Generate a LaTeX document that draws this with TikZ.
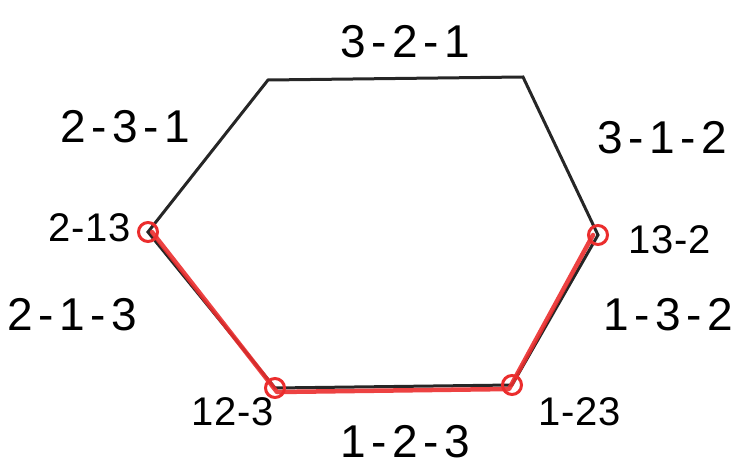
\documentclass[tikz,border=0pt]{standalone}
\usepackage{fontspec}
\setmainfont{Liberation Sans}
\definecolor{pen}{RGB}{235,45,45}
\begin{document}
\begin{tikzpicture}[x=1pt,y=-1pt,
  big/.style={font=\fontsize{46}{48}\selectfont\addfontfeature{LetterSpace=12}, inner sep=0pt},
  small/.style={font=\fontsize{40}{42}\selectfont\addfontfeature{LetterSpace=2}, inner sep=0pt},
  edge/.style={draw=black!85, line width=3pt, line cap=round},
  path/.style={draw=pen, line width=4.5pt, line cap=round, line join=round, opacity=0.9},
  ring/.style={draw=pen, line width=3pt, circle, minimum size=19pt, inner sep=0pt}]
\useasboundingbox (0,0) rectangle (751,473);
\coordinate (tl) at (268,80);
\coordinate (tr) at (523,77);
\coordinate (r) at (598,235);
\coordinate (br) at (512,385);
\coordinate (bl) at (275,388);
\coordinate (l) at (148,232);
\draw[edge] (tl) -- (tr) -- (r) -- (br) -- (bl) -- (l) -- cycle;
\draw[path] ([xshift=4pt]l) -- ([yshift=-4pt,xshift=2pt]bl) -- ([yshift=-4pt,xshift=-3pt]br) -- ([xshift=-5pt]r);
\node[ring] (cl) at (l) {};
\node[ring] (cr) at (r) {};
\node[ring] (cbl) at (bl) {};
\node[ring] (cbr) at (br) {};
\node[big] (t321) at (405,42) {3-2-1};
\node[big] (t231) at (125,127) {2-3-1};
\node[big] (t312) at (662,138) {3-1-2};
\node[small] (t213) at (90,228) {2-13};
\node[small] (t132) at (670,240) {13-2};
\node[big] (t2m13) at (72,315) {2-1-3};
\node[big] (t1m32) at (668,315) {1-3-2};
\node[small] (t123a) at (233,412) {12-3};
\node[small] (t123b) at (580,412) {1-23};
\node[big] (t1m23) at (405,442) {1-2-3};
\end{tikzpicture}
\end{document}
